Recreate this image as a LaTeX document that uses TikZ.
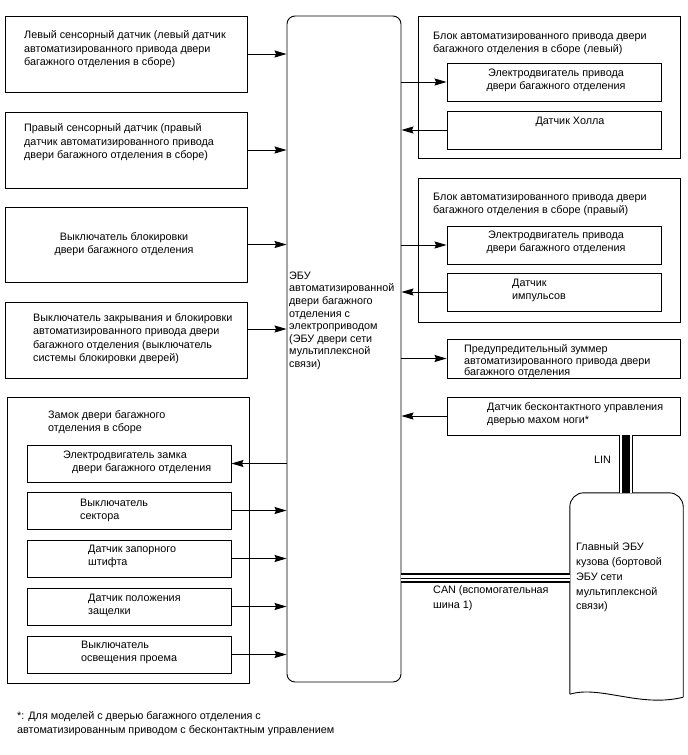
\documentclass[tikz,border=0pt]{standalone}
\usepackage{fontspec}
\setmainfont{Liberation Sans}
\usetikzlibrary{arrows.meta,fit}
\newcommand\fs{\fontsize{10.8}{13.3}\selectfont}
\tikzset{
  blk/.style={draw,line width=0.9pt,inner sep=0pt},
  grp/.style={draw,line width=1pt,inner sep=0pt},
  txt/.style={inner sep=0pt,anchor=north west,align=left,font=\fs,yshift=-1.5pt},
  ctxt/.style={inner sep=0pt,anchor=north,align=center,font=\fs,yshift=-1.5pt},
  sig/.style={-{Stealth[length=12pt,width=7pt,inset=1.5pt]},line width=0.9pt},
  canbus/.style={draw=white,line width=5.6pt,
    preaction={draw=black,line width=10pt},postaction={draw=black,line width=1pt}},
  linbus/.style={draw=white,line width=12pt,
    preaction={draw=black,line width=14pt},postaction={draw=black,line width=7.5pt}},
}

\begin{document}
\begin{tikzpicture}[x=1pt,y=-1pt]
  \useasboundingbox (0,0) rectangle (688,755);
  % sensors and switches on the left
  \node[blk,fit={(5,16)(247,92)}] (lsens) {};
  \node[txt] (lsenst) at (24,29) {Левый сенсорный датчик (левый датчик\\автоматизированного привода двери\\багажного отделения в сборе)};
  \node[blk,fit={(5,112)(247,188)}] (rsens) {};
  \node[txt] (rsenst) at (24,122) {Правый сенсорный датчик (правый\\датчик автоматизированного привода\\двери багажного отделения в сборе)};
  \node[blk,fit={(5,207)(247,282)}] (lock) {};
  \node[ctxt] (lockt) at (124,231) {Выключатель блокировки\\двери багажного отделения};
  \node[blk,fit={(5,302)(247,378)}] (close) {};
  \node[txt] (closet) at (33,312) {Выключатель закрывания и блокировки\\автоматизированного привода двери\\багажного отделения (выключатель\\системы блокировки дверей)};
  % door lock assembly
  \node[grp,fit={(7,397)(249,683)}] (latchgrp) {};
  \node[txt] (latchgrpt) at (48,409) {Замок двери багажного\\отделения в сборе};
  \node[blk,fit={(27,445)(231,482)}] (lmot) {};
  \node[txt] (lmott) at (63,449) {Электродвигатель замка\\\hspace*{9pt}двери багажного отделения};
  \node[blk,fit={(27,492)(231,529)}] (sect) {};
  \node[txt] (sectt) at (80,497) {Выключатель\\сектора};
  \node[blk,fit={(27,540)(231,577)}] (pin) {};
  \node[txt] (pint) at (88,543) {Датчик запорного\\штифта};
  \node[blk,fit={(27,588)(231,625)}] (ltch) {};
  \node[txt] (ltcht) at (88,592) {Датчик положения\\защелки};
  \node[blk,fit={(27,636)(231,673)}] (lamp) {};
  \node[txt] (lampt) at (81,639) {Выключатель\\освещения проема};
  % power door ECU
  \node[blk,rounded corners=8pt,fit={(287,16)(401,682)}] (ecu) {};
  \node[txt,font=\fontsize{10.8}{12.6}\selectfont] (ecut) at (289,270) {ЭБУ\\автоматизированной\\двери багажного\\отделения с\\электроприводом\\(ЭБУ двери сети\\мультиплексной\\связи)};
  % drive units on the right
  \node[grp,fit={(418,16)(680,158)}] (actl) {};
  \node[txt] (actlt) at (433,30) {Блок автоматизированного привода двери\\багажного отделения в сборе (левый)};
  \node[blk,fit={(447,63)(661,101)}] (motl) {};
  \node[ctxt] (motlt) at (556,67) {Электродвигатель привода\\двери багажного отделения};
  \node[blk,fit={(447,111)(661,149)}] (hall) {};
  \node[ctxt] (hallt) at (570,115) {Датчик Холла};
  \node[grp,fit={(418,178)(680,322)}] (actr) {};
  \node[txt] (actrt) at (433,191) {Блок автоматизированного привода двери\\багажного отделения в сборе (правый)};
  \node[blk,fit={(447,226)(661,264)}] (motr) {};
  \node[ctxt] (motrt) at (556,229) {Электродвигатель привода\\двери багажного отделения};
  \node[blk,fit={(447,273)(661,311)}] (pulse) {};
  \node[txt] (pulset) at (512,277) {Датчик\\импульсов};
  \node[blk,fit={(447,339)(680,378)}] (buzz) {};
  \node[txt,font=\fontsize{10.8}{11.5}\selectfont] (buzzt) at (464,343) {Предупредительный зуммер\\автоматизированного привода двери\\багажного отделения};
  \node[blk,fit={(447,397)(680,435)}] (kick) {};
  \node[txt] (kickt) at (487,401) {Датчик бесконтактного управления\\дверью махом ноги*};
  % main body ECU
  \node[inner sep=0pt,fit={(570,493)(683,694)}] (bcm) {};
  \draw[line width=0.9pt,rounded corners=14pt] (bcm.south west) -- (bcm.north west) -- (bcm.north east) -- ([yshift=-3pt]bcm.south east);
  \draw[line width=0.9pt] (bcm.south west) .. controls (600,685) and (640,708) .. ([yshift=-3pt]bcm.south east);
  \node[txt,font=\fontsize{10.8}{14.8}\selectfont] (bcmt) at (576,541) {Главный ЭБУ\\кузова (бортовой\\ЭБУ сети\\мультиплексной\\связи)};
  % signals
  \foreach \n in {lsens,rsens,lock,sect,pin,ltch,lamp}
    \draw[sig] (\n) -- (\n -| ecu.west);
  \draw[sig] (close.east |- 0,329) -- (ecu.west |- 0,329);
  \draw[sig] (lmot -| ecu.west) -- (lmot);
  \foreach \n in {motl,motr,buzz}
    \draw[sig] (\n -| ecu.east) -- (\n);
  \foreach \n in {hall,pulse,kick}
    \draw[sig] (\n) -- (\n -| ecu.east);
  % buses
  \draw[canbus] (ecu.east |- 0,578) -- (bcm.west |- 0,578);
  \draw[linbus] (kick.south -| 626,0) -- (bcm.north -| 626,0);
  \node[inner sep=0pt,anchor=west,font=\fs] (lin) at (594,460) {LIN};
  \node[txt,font=\fontsize{10.8}{15}\selectfont] (can) at (433,584) {CAN (вспомогательная\\шина 1)};
  \node[txt] (note) at (17,710) {*: Для моделей с дверью багажного отделения с\\автоматизированным приводом с бесконтактным управлением};
\end{tikzpicture}
\end{document}
